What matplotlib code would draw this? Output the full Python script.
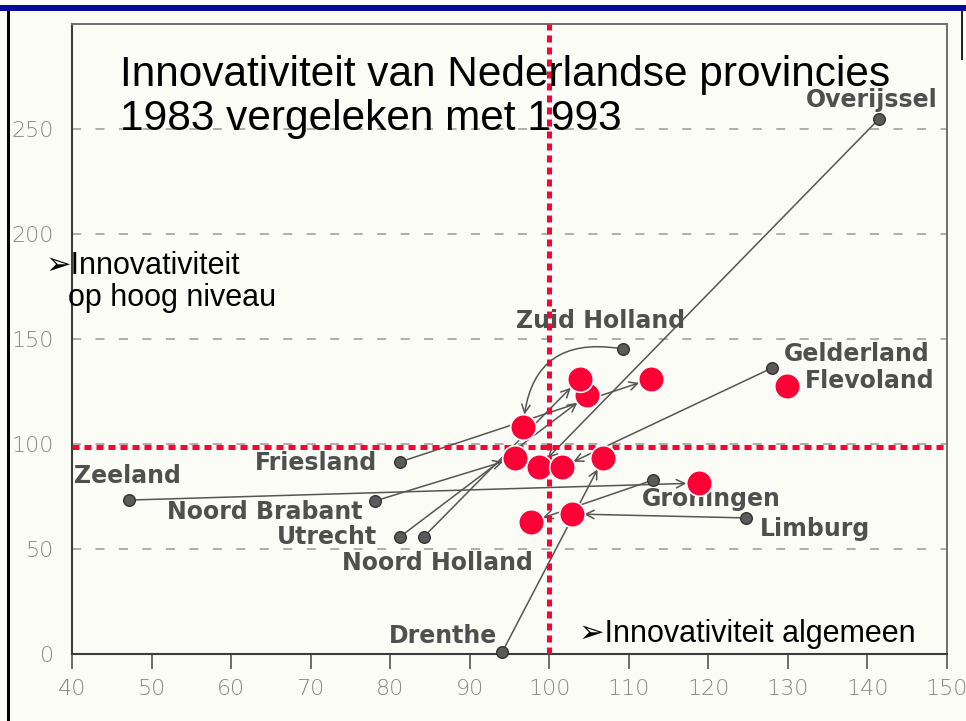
import matplotlib
matplotlib.use("Agg")
import matplotlib.pyplot as plt
import numpy as np
from matplotlib.patches import Rectangle

# provinces: 1983 position (grey dot) and 1993 position (red dot)
provinces = ["Overijssel", "Zuid Holland", "Gelderland", "Flevoland", "Friesland",
             "Zeeland", "Noord Brabant", "Groningen", "Limburg", "Utrecht",
             "Noord Holland", "Drenthe"]
x_1983 = [141.5, 109.3, 128.0, np.nan, 81.2, 47.2, 78.1, 113.1, 124.7, 81.2, 84.2, 94.1]
y_1983 = [255.0, 145.2, 136.2, np.nan, 91.4, 73.3, 72.9, 82.9, 64.8, 55.7, 55.7, 1.0]
x_1993 = [98.7, 96.7, 101.6, 129.9, 112.8, 118.8, 95.7, 97.7, 102.8, 104.8, 103.8, 106.8]
y_1993 = [89.0, 108.1, 89.0, 127.6, 131.0, 81.4, 93.3, 62.9, 66.7, 123.3, 131.0, 93.3]

# national average (reference lines)
ref_x = 100
ref_y = 98.5

x_ticks = [40, 50, 60, 70, 80, 90, 100, 110, 120, 130, 140, 150]
y_ticks = [0, 50, 100, 150, 200, 250]

# label centres for each province
label_pos = {
    "Overijssel": (140.5, 264.0),
    "Zuid Holland": (106.5, 158.6),
    "Gelderland": (138.7, 142.9),
    "Flevoland": (140.3, 130.0),
    "Friesland": (70.7, 91.0),
    "Zeeland": (47.0, 84.8),
    "Noord Brabant": (64.2, 67.6),
    "Groningen": (120.4, 73.8),
    "Limburg": (133.4, 59.5),
    "Utrecht": (72.1, 55.7),
    "Noord Holland": (85.9, 43.3),
    "Drenthe": (86.6, 8.6),
}

W, H = 966, 721
bg = "#FCFCF7"
red = "#FF0036"
grey = "#4f4f4f"

fig = plt.figure(figsize=(W / 100, H / 100), dpi=100, facecolor=bg)


def fx(px):
    return px / W


def fy(py):
    return 1 - py / H


ax = fig.add_axes([fx(72), fy(654), (947 - 72) / W, (654 - 24) / H])
ax.set_facecolor(bg)
ax.set_xlim(40, 150)
ax.set_ylim(0, 300)

# axes frame
for side in ["left", "bottom"]:
    ax.spines[side].set_color("#3c3c3c")
    ax.spines[side].set_linewidth(1.5)
for side in ["top", "right"]:
    ax.spines[side].set_color("#6e6e6e")
    ax.spines[side].set_linewidth(1.4)

ax.set_xticks(x_ticks)
ax.set_yticks(y_ticks)
ax.tick_params(axis="x", direction="out", length=11, width=1.2, color="#555555",
               labelsize=16, labelcolor="#858585", pad=7)
ax.tick_params(axis="y", length=0, labelsize=16, labelcolor="#858585", pad=13)
for lab in ax.get_xticklabels() + ax.get_yticklabels():
    lab.set_fontweight("light")

# dashed horizontal grid
for yv in y_ticks[1:]:
    ax.axhline(yv, color="#a8a8a8", linewidth=1.3, linestyle=(0, (5, 8)), zorder=1)

# arrows from 1983 to 1993
for name, x0, y0, x1, y1 in zip(provinces, x_1983, y_1983, x_1993, y_1993):
    if np.isnan(x0):
        continue
    conn = "arc3,rad=0.55" if name == "Zuid Holland" else "arc3,rad=0"
    ax.annotate("", xy=(x1, y1), xytext=(x0, y0),
                arrowprops=dict(arrowstyle="->,head_length=0.6,head_width=0.3",
                                color="#555555", lw=1.1, shrinkA=4, shrinkB=9,
                                connectionstyle=conn),
                zorder=3)

# grey 1983 dots
ax.scatter(x_1983, y_1983, s=70, color="#5a5a5a", edgecolors="#333333",
           linewidths=1.0, zorder=4, clip_on=False)

# province labels
for name in provinces:
    lx, ly = label_pos[name]
    ax.text(lx, ly, name, ha="center", va="center", fontsize=17,
            fontweight="bold", color=grey, family="DejaVu Sans", zorder=5)

# red reference lines
ax.axvline(ref_x, color=red, linewidth=3.6, linestyle=(0, (1.4, 1.0)), zorder=6)
ax.axhline(ref_y, color=red, linewidth=3.6, linestyle=(0, (1.4, 1.0)), zorder=6)

# red 1993 dots
ax.scatter(x_1993, y_1993, s=340, color=red, edgecolors="white", linewidths=1.2,
           zorder=7)

# slide texts
font = ["Liberation Sans", "DejaVu Sans"]
fig.text(fx(120), fy(86), "Innovativiteit van Nederlandse provincies",
         fontsize=30.5, family=font, color="black", va="baseline", ha="left")
fig.text(fx(120), fy(130), "1983 vergeleken met 1993",
         fontsize=30.5, family=font, color="black", va="baseline", ha="left")
fig.text(fx(46), fy(274), "\u27a2Innovativiteit", fontsize=22, family=font,
         color="black", va="baseline", ha="left")
fig.text(fx(68), fy(306), "op hoog niveau", fontsize=22, family=font,
         color="black", va="baseline", ha="left")
fig.text(fx(579), fy(642), "\u27a2Innovativiteit algemeen", fontsize=22,
         family=font, color="black", va="baseline", ha="left")

# slide border: blue top band and black side lines
fig.patches.append(Rectangle((0, fy(11)), 1, 6 / H, transform=fig.transFigure,
                             facecolor="#0a0a9a", edgecolor="none"))
fig.patches.append(Rectangle((fx(7), 0), 3 / W, fy(10), transform=fig.transFigure,
                             facecolor="black", edgecolor="none"))
fig.patches.append(Rectangle((fx(961), fy(60)), 2 / W, 50 / H,
                             transform=fig.transFigure,
                             facecolor="#222222", edgecolor="none"))

fig.savefig("out.png", dpi=100, facecolor=bg)
